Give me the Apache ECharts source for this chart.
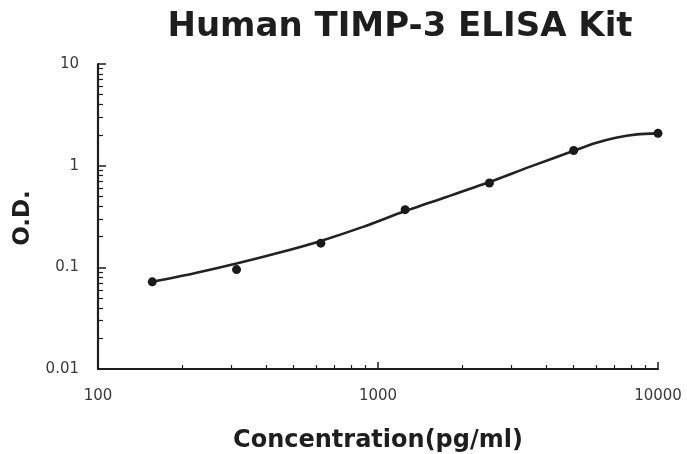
<!DOCTYPE html>
<html>
<head>
<meta charset="utf-8">
<script src="https://cdn.jsdelivr.net/npm/echarts@6/dist/echarts.min.js"></script>
<style>
html,body{margin:0;padding:0;background:#fff;}
#c{width:687px;height:454px;}
</style>
</head>
<body>
<div id="c"></div>
<script>
// Standard points (concentration pg/ml, O.D.)
var concentrations = [156.25, 312.5, 625, 1250, 2500, 5000, 10000];
var odValues = [0.072, 0.095, 0.173, 0.369, 0.676, 1.41, 2.08];
// Fitted curve
var curveX = [156.25, 221, 312.5, 442, 625, 884, 1250, 1768, 2500, 3536, 5000, 5946, 7071, 8409, 10000];
var curveY = [0.072, 0.0875, 0.109, 0.139, 0.182, 0.25, 0.358, 0.495, 0.69, 0.99, 1.4, 1.66, 1.88, 2.03, 2.08];
// Tick values / labels
var xMajorTicks = [100, 1000, 10000];
var xMinorTicks = [200, 300, 400, 500, 600, 700, 800, 900, 2000, 3000, 4000, 5000, 6000, 7000, 8000, 9000];
var yMajorTicks = [0.01, 0.1, 1, 10];
var yMinorTicks = [0.02, 0.03, 0.04, 0.05, 0.06, 0.07, 0.08, 0.09, 0.2, 0.3, 0.4, 0.5, 0.6, 0.7, 0.8, 0.9, 2, 3, 4, 5, 6, 7, 8, 9];
var titleText = 'Human TIMP-3 ELISA Kit';
var xName = 'Concentration(pg/ml)';
var yName = 'O.D.';

var chart = echarts.init(document.getElementById('c'), null, {renderer: 'canvas'});
var points = concentrations.map(function (x, i) { return [x, odValues[i]]; });
var curve = curveX.map(function (x, i) { return [x, curveY[i]]; });
var lineCol = '#1e1e1e';
var labelFont = {fontFamily: 'DejaVu Sans', fontSize: 15, color: '#3a3a3a'};

function labelFmt(v) {
  var r = Math.round(v * 1000) / 1000;
  return String(r);
}

chart.setOption({
  animation: false,
  backgroundColor: '#fff',
  grid: {left: 98, right: 29, top: 64, bottom: 85, containLabel: false},
  graphic: [
    {type: 'text', x: 400, y: 27, style: {text: titleText, fontFamily: 'DejaVu Sans', fontWeight: 'bold', fontSize: 34, fill: '#1e1e1e', align: 'center', verticalAlign: 'middle'}},
    {type: 'text', x: 378, y: 441, style: {text: xName, fontFamily: 'DejaVu Sans', fontWeight: 'bold', fontSize: 24, fill: '#1e1e1e', align: 'center', verticalAlign: 'middle'}},
    {type: 'text', x: 23, y: 218, rotation: Math.PI / 2, style: {text: yName, fontFamily: 'DejaVu Sans', fontWeight: 'bold', fontSize: 23, fill: '#1e1e1e', align: 'center', verticalAlign: 'middle'}}
  ],
  xAxis: [
    {
      type: 'log', logBase: 10, min: 100, max: 10000,
      axisLine: {show: true, lineStyle: {color: lineCol, width: 2.2}},
      axisTick: {show: true, inside: true, length: 7, lineStyle: {color: lineCol, width: 1.5}, customValues: xMajorTicks},
      axisLabel: Object.assign({show: true, margin: 20, formatter: labelFmt, customValues: xMajorTicks}, labelFont),
      splitLine: {show: false},
      minorTick: {show: false}
    },
    {
      type: 'log', logBase: 10, min: 100, max: 10000, position: 'bottom',
      axisLine: {show: false},
      axisTick: {show: true, inside: true, length: 4, lineStyle: {color: lineCol, width: 1.2}, customValues: xMinorTicks},
      axisLabel: {show: false},
      splitLine: {show: false}
    }
  ],
  yAxis: [
    {
      type: 'log', logBase: 10, min: 0.01, max: 10,
      axisLine: {show: true, lineStyle: {color: lineCol, width: 2.2}},
      axisTick: {show: true, inside: true, length: 8, lineStyle: {color: lineCol, width: 1.5}, customValues: yMajorTicks},
      axisLabel: Object.assign({show: true, margin: 19, formatter: labelFmt, customValues: yMajorTicks}, labelFont),
      splitLine: {show: false},
      minorTick: {show: false}
    },
    {
      type: 'log', logBase: 10, min: 0.01, max: 10, position: 'left',
      axisLine: {show: false},
      axisTick: {show: true, inside: true, length: 5, lineStyle: {color: lineCol, width: 1.2}, customValues: yMinorTicks},
      axisLabel: {show: false},
      splitLine: {show: false}
    }
  ],
  series: [
    {
      type: 'line', xAxisIndex: 0, yAxisIndex: 0, data: curve, smooth: 0.25,
      showSymbol: false, symbol: 'none',
      lineStyle: {color: '#222', width: 2.6}, z: 2
    },
    {
      type: 'scatter', xAxisIndex: 0, yAxisIndex: 0, data: points,
      symbol: 'circle', symbolSize: 9,
      itemStyle: {color: '#1a1a1a', opacity: 1}, z: 3
    }
  ]
});
</script>
</body>
</html>
